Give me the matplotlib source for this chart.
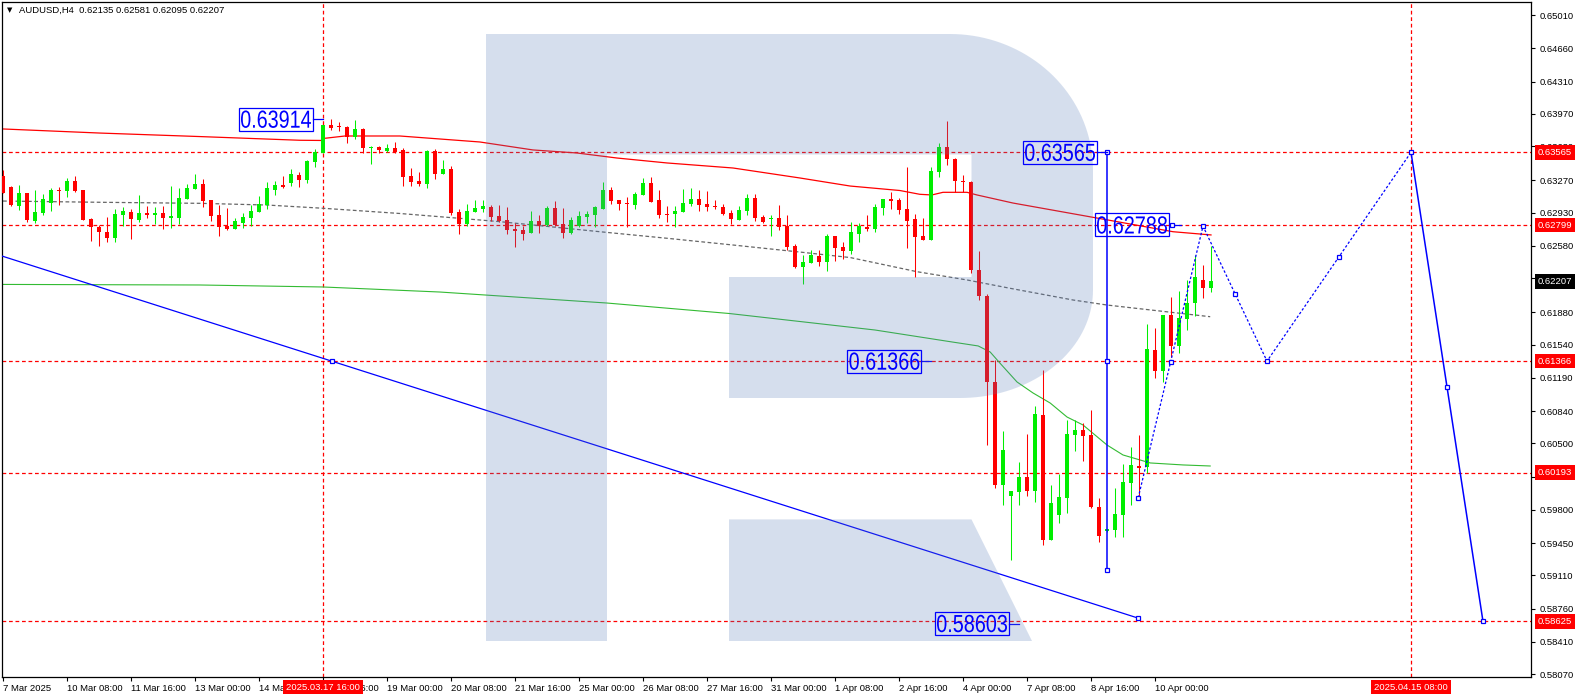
import matplotlib
matplotlib.use('Agg')
import matplotlib.pyplot as plt
from matplotlib.font_manager import FontProperties
from matplotlib.patches import Polygon, PathPatch, Rectangle
from matplotlib.textpath import TextPath
from matplotlib.transforms import Affine2D, IdentityTransform, blended_transform_factory
import numpy as np

# ---- H4 candles, bar 0 = 7 Mar 2025 00:00 ----
opens = [
    0.63316, 0.63200, 0.63003, 0.63137, 0.62845, 0.62930, 0.63028, 0.63168, 0.63161, 0.63263,
    0.63168, 0.62863, 0.62779, 0.62726, 0.62666, 0.62905, 0.62937, 0.62852, 0.62926, 0.62908,
    0.62926, 0.62874, 0.62874, 0.63074, 0.63179, 0.63231, 0.63063, 0.62905, 0.62789, 0.62758,
    0.62821, 0.62874, 0.62937, 0.63010, 0.63168, 0.63221, 0.63242, 0.63326, 0.63274, 0.63467,
    0.63561, 0.63853, 0.63835, 0.63835, 0.63730, 0.63814, 0.63608, 0.63625, 0.63582, 0.63614,
    0.63589, 0.63316, 0.63263, 0.63235, 0.63579, 0.63340, 0.63390, 0.62937, 0.62808, 0.62937,
    0.62968, 0.62989, 0.62895, 0.62852, 0.62758, 0.62747, 0.62716, 0.62842, 0.62800, 0.62979,
    0.62810, 0.62716, 0.62790, 0.62884, 0.62905, 0.62968, 0.63168, 0.63063, 0.63031, 0.63010,
    0.63116, 0.63242, 0.63063, 0.62916, 0.62916, 0.62937, 0.63021, 0.63074, 0.63021, 0.63000,
    0.62989, 0.62926, 0.62852, 0.62947, 0.63084, 0.62884, 0.62860, 0.62874, 0.62789, 0.62579,
    0.62358, 0.62400, 0.62473, 0.62410, 0.62684, 0.62568, 0.62526, 0.62705, 0.62779, 0.62758,
    0.62979, 0.63074, 0.63063, 0.62968, 0.62863, 0.62684, 0.62642, 0.63361, 0.63625, 0.63498,
    0.63266, 0.63253, 0.62326, 0.62052, 0.61147, 0.60062, 0.59951, 0.59991, 0.60146, 0.59999,
    0.60799, 0.59483, 0.59746, 0.59925, 0.60588, 0.60641, 0.60588, 0.59830, 0.59575, 0.59588,
    0.59746, 0.60083, 0.60262, 0.60255, 0.61483, 0.61262, 0.61852, 0.61529, 0.61810, 0.61975,
    0.62221, 0.62135]
highs = [
    0.63379, 0.63211, 0.63221, 0.63140, 0.63168, 0.63126, 0.63193, 0.63200, 0.63295, 0.63316,
    0.63170, 0.62870, 0.62800, 0.62887, 0.62968, 0.62993, 0.62968, 0.63116, 0.63000, 0.62989,
    0.63000, 0.63210, 0.63189, 0.63231, 0.63337, 0.63284, 0.63065, 0.63010, 0.62976, 0.62876,
    0.62926, 0.63010, 0.63105, 0.63253, 0.63263, 0.63316, 0.63390, 0.63358, 0.63484, 0.63600,
    0.63855, 0.63914, 0.63884, 0.63837, 0.63910, 0.63816, 0.63635, 0.63635, 0.63653, 0.63677,
    0.63611, 0.63403, 0.63361, 0.63589, 0.63600, 0.63488, 0.63421, 0.62965, 0.63021, 0.63063,
    0.63063, 0.63010, 0.63010, 0.62989, 0.62821, 0.62790, 0.62947, 0.62905, 0.63000, 0.63052,
    0.62979, 0.62884, 0.62947, 0.62947, 0.63000, 0.63253, 0.63200, 0.63065, 0.63095, 0.63147,
    0.63295, 0.63305, 0.63168, 0.63000, 0.63000, 0.63179, 0.63189, 0.63168, 0.63158, 0.63063,
    0.63021, 0.62958, 0.63000, 0.63126, 0.63126, 0.62905, 0.62905, 0.63010, 0.62905, 0.62600,
    0.62484, 0.62536, 0.62536, 0.62705, 0.62686, 0.62621, 0.62832, 0.62821, 0.62905, 0.63021,
    0.63074, 0.63147, 0.63084, 0.63411, 0.62916, 0.62874, 0.63411, 0.63667, 0.63898, 0.63500,
    0.63326, 0.63263, 0.62529, 0.62073, 0.61378, 0.60631, 0.60000, 0.60304, 0.60599, 0.60894,
    0.61273, 0.60062, 0.60178, 0.60747, 0.60747, 0.60715, 0.60852, 0.59925, 0.59600, 0.60030,
    0.60283, 0.60462, 0.60588, 0.61757, 0.61715, 0.61852, 0.62045, 0.62105, 0.62221, 0.62484,
    0.62379, 0.62581]
lows = [
    0.63137, 0.63003, 0.62958, 0.62834, 0.62818, 0.62905, 0.62947, 0.63010, 0.63098, 0.63144,
    0.62852, 0.62634, 0.62579, 0.62624, 0.62624, 0.62790, 0.62652, 0.62834, 0.62874, 0.62811,
    0.62758, 0.62771, 0.62811, 0.63070, 0.63175, 0.62993, 0.62842, 0.62684, 0.62747, 0.62755,
    0.62771, 0.62790, 0.62935, 0.62968, 0.63116, 0.63193, 0.63210, 0.63203, 0.63242, 0.63411,
    0.63558, 0.63800, 0.63793, 0.63667, 0.63705, 0.63555, 0.63439, 0.63555, 0.63572, 0.63555,
    0.63214, 0.63214, 0.63214, 0.63193, 0.63287, 0.63338, 0.62903, 0.62705, 0.62790, 0.62935,
    0.62937, 0.62842, 0.62832, 0.62705, 0.62568, 0.62642, 0.62714, 0.62716, 0.62790, 0.62790,
    0.62663, 0.62705, 0.62779, 0.62821, 0.62779, 0.62966, 0.63021, 0.62958, 0.62779, 0.62968,
    0.63114, 0.63040, 0.62874, 0.62832, 0.62779, 0.62935, 0.63000, 0.62947, 0.62947, 0.62968,
    0.62905, 0.62811, 0.62850, 0.62905, 0.62842, 0.62821, 0.62684, 0.62747, 0.62536, 0.62347,
    0.62179, 0.62398, 0.62368, 0.62316, 0.62421, 0.62442, 0.62495, 0.62621, 0.62737, 0.62726,
    0.62905, 0.62968, 0.62916, 0.62558, 0.62252, 0.62642, 0.62640, 0.63308, 0.63432, 0.63151,
    0.63151, 0.62291, 0.62010, 0.60483, 0.60030, 0.59851, 0.59272, 0.59851, 0.59946, 0.59887,
    0.59430, 0.59480, 0.59662, 0.59767, 0.60420, 0.60315, 0.59820, 0.59462, 0.59570, 0.59514,
    0.59514, 0.59851, 0.59929, 0.60193, 0.61189, 0.61147, 0.61413, 0.61449, 0.61694, 0.61845,
    0.62035, 0.62095]
closes = [
    0.63140, 0.63010, 0.63137, 0.62852, 0.62937, 0.63074, 0.63168, 0.63161, 0.63263, 0.63161,
    0.62855, 0.62776, 0.62729, 0.62666, 0.62916, 0.62947, 0.62866, 0.62926, 0.62908, 0.62926,
    0.62874, 0.62895, 0.63084, 0.63189, 0.63231, 0.63052, 0.62895, 0.62779, 0.62758, 0.62842,
    0.62884, 0.62947, 0.63021, 0.63189, 0.63221, 0.63203, 0.63337, 0.63274, 0.63474, 0.63572,
    0.63853, 0.63825, 0.63829, 0.63730, 0.63814, 0.63608, 0.63625, 0.63590, 0.63608, 0.63572,
    0.63308, 0.63256, 0.63235, 0.63579, 0.63340, 0.63390, 0.62930, 0.62808, 0.62947, 0.62979,
    0.63000, 0.62884, 0.62842, 0.62747, 0.62737, 0.62705, 0.62842, 0.62800, 0.62979, 0.62800,
    0.62716, 0.62852, 0.62895, 0.62916, 0.62989, 0.63168, 0.63052, 0.63021, 0.63018, 0.63126,
    0.63242, 0.63042, 0.62905, 0.62908, 0.62947, 0.63031, 0.63074, 0.63010, 0.62989, 0.62989,
    0.62916, 0.62863, 0.62958, 0.63084, 0.62874, 0.62832, 0.62874, 0.62779, 0.62568, 0.62358,
    0.62410, 0.62484, 0.62410, 0.62684, 0.62558, 0.62526, 0.62726, 0.62789, 0.62758, 0.62989,
    0.63074, 0.63052, 0.62958, 0.62842, 0.62674, 0.62642, 0.63369, 0.63625, 0.63492, 0.63266,
    0.63249, 0.62326, 0.62052, 0.61147, 0.60062, 0.60430, 0.60000, 0.60146, 0.59999, 0.60810,
    0.59483, 0.59873, 0.59936, 0.60599, 0.60641, 0.60578, 0.59830, 0.59525, 0.59599, 0.59757,
    0.60094, 0.60273, 0.60245, 0.61494, 0.61262, 0.61852, 0.61529, 0.61820, 0.61978, 0.62256,
    0.62140, 0.62207]

# moving averages, sampled (bar, price)
ma_red_x = [0, 12.1, 24.6, 37.1, 39.75, 40.25, 42.75, 49.6, 59.6, 66.25, 71.75, 76.75, 83,
            91.25, 99.6, 105.9, 112.1, 114.6, 116.1, 117.5, 120.5, 121.75, 126.25, 136.75, 146.25, 151]
ma_red_y = [0.63811, 0.63768, 0.63731, 0.63692, 0.63690, 0.63713, 0.63737, 0.63737, 0.63674,
            0.63590, 0.63558, 0.63505, 0.63453, 0.63400, 0.63295, 0.63210, 0.63163, 0.63123,
            0.63116, 0.63144, 0.63144, 0.63116, 0.63031, 0.62873, 0.62729, 0.62695]
ma_gray_x = [0, 12.1, 24.6, 33, 40, 49.6, 57.1, 62.1, 66.25, 74.6, 83, 91.25, 99.6, 105.9,
             114.25, 120.5, 125.9, 133.75, 138, 150.9]
ma_gray_y = [0.63052, 0.63039, 0.63028, 0.63010, 0.62976, 0.62921, 0.62870, 0.62835, 0.62800,
             0.62729, 0.62660, 0.62589, 0.62515, 0.62457, 0.62308, 0.62221, 0.62133, 0.62010,
             0.61957, 0.61834]
ma_green_x = [0, 24.6, 40, 54.6, 75.5, 90.75, 109, 118.4, 121.9, 123.4, 124.6, 126.75, 128.75,
              130.9, 133, 135, 138, 140, 143.4, 147.5, 150.9]
ma_green_y = [0.62174, 0.62168, 0.62147, 0.62094, 0.61978, 0.61868, 0.61694, 0.61571, 0.61526,
              0.61462, 0.61347, 0.61147, 0.61031, 0.60925, 0.60778, 0.60694, 0.60483, 0.60378,
              0.60294, 0.60273, 0.60262]

# horizontal levels and vertical time lines
levels = [0.63565, 0.62799, 0.61366, 0.60193, 0.58625]
vlines_x = [40, 176]
vlines_lbl = ['2025.03.17 16:00', '2025.04.15 08:00']
last_price = 0.62207

# blue drawing objects
trend_x = [-59.7, 41.1, 141.9]
trend_y = [0.64072, 0.61366, 0.58660]
vert_x = 138
vert_y = [0.63565, 0.61366, 0.59167]
zz_dash_x = [141.9, 150, 158, 176]
zz_dash_y = [0.59926, 0.62788, 0.61366, 0.63565]
zz_solid_x = [176, 185]
zz_solid_y = [0.63565, 0.58625]
# text labels: (box right edge bar, price, text, tick end bar)
blue_labels = [(38.75, 0.63914, '0.63914', 40), (136.75, 0.63565, '0.63565', 138),
               (145.75, 0.62800, '0.62788', 147.2), (114.8, 0.61366, '0.61366', 116),
               (125.75, 0.58603, '0.58603', 127)]

yticks = [0.65010, 0.64660, 0.64310, 0.63970, 0.63630, 0.63270, 0.62930, 0.62580, 0.62240,
          0.61880, 0.61540, 0.61190, 0.60840, 0.60500, 0.60150, 0.59800, 0.59450, 0.59110,
          0.58760, 0.58410, 0.58070]
xticks = list(range(0, 145, 8))
xtick_labels = ['7 Mar 2025', '10 Mar 08:00', '11 Mar 16:00', '13 Mar 00:00', '14 Mar 08:00',
                '17 Mar 16:00', '19 Mar 00:00', '20 Mar 08:00', '21 Mar 16:00', '25 Mar 00:00',
                '26 Mar 08:00', '27 Mar 16:00', '31 Mar 00:00', '1 Apr 08:00', '2 Apr 16:00',
                '4 Apr 00:00', '7 Apr 08:00', '8 Apr 16:00', '10 Apr 00:00']

GREEN = '#00ee00'
RED = '#ff0000'
BLUE = '#0000ff'

plt.rcParams['font.family'] = ['Liberation Sans', 'DejaVu Sans']

W, H = 1578, 698
L, T, R, B = 2, 2, 1531, 677
fig = plt.figure(figsize=(W / 100, H / 100), dpi=100)
ax = fig.add_axes([L / W, 1 - B / H, (R - L) / W, (B - T) / H])
ax.set_xlim(-0.125, 191)
ax.set_ylim(0.58040, 0.65148)
px = Affine2D().scale(1 / W, -1 / H).translate(0, 1) + fig.transFigure

# levels
for lv in levels:
    ax.axhline(lv, color=RED, lw=0.9, dashes=(3, 2.2), zorder=2)
for vx in vlines_x:
    ax.axvline(vx, color=RED, lw=0.9, dashes=(3, 2.2), zorder=2)

# moving averages
ax.plot(ma_red_x, ma_red_y, color=RED, lw=0.9, zorder=2.5)
ax.plot(ma_gray_x, ma_gray_y, color='#666666', lw=0.9, dashes=(3, 2), zorder=2.5)
ax.plot(ma_green_x, ma_green_y, color='#33bb33', lw=0.8, zorder=2.5)

# candles
o = np.array(opens)
c = np.array(closes)
idx = np.arange(len(o))
col = np.where(c >= o, GREEN, RED)
ax.vlines(idx, lows, highs, colors=col, lw=0.75, zorder=3)
ax.bar(idx, np.maximum(np.abs(c - o), 0.00011), bottom=np.minimum(o, c), width=0.62,
       color=col, lw=0, zorder=3)

# blue objects
mk = dict(marker='s', ms=3.5, mfc='white', mec=BLUE, mew=0.9)
ax.plot([trend_x[0], trend_x[2]], [trend_y[0], trend_y[2]], color=BLUE, lw=0.9, zorder=3.5)
ax.plot(trend_x[1:], trend_y[1:], ls='none', zorder=3.6, **mk)
ax.plot([vert_x] * 3, vert_y, color=BLUE, lw=1.1, zorder=3.5, **mk)
ax.plot(zz_dash_x, zz_dash_y, color=BLUE, lw=0.9, dashes=(2, 1.6), zorder=3.5)
ax.plot(zz_solid_x, zz_solid_y, color=BLUE, lw=1.1, zorder=3.5)
pts_x = zz_dash_x + zz_solid_x[1:]
pts_y = zz_dash_y + zz_solid_y[1:]
mid_x = [(a + b) / 2 for a, b in zip(pts_x[:-1], pts_x[1:])]
mid_y = [(a + b) / 2 for a, b in zip(pts_y[:-1], pts_y[1:])]
ax.plot(pts_x + mid_x, pts_y + mid_y, ls='none', zorder=3.6, **mk)
ax.plot([146.1], [0.62800], ls='none', zorder=3.6, **mk)

# big framed price labels, narrow digits drawn as scaled text paths
fp = FontProperties(family='Liberation Sans')
for xr, yv, txt, xt in blue_labels:
    ax.plot([xr, xt], [yv, yv], color=BLUE, lw=0.9, zorder=3.5)
    xd, yd = ax.transData.transform((xr, yv))
    tp = TextPath((0, 0), txt, size=24, prop=fp)
    ext = tp.get_extents()
    tr = (Affine2D().translate(-ext.x1, -(ext.y0 + ext.y1) / 2)
          .scale(70 / ext.width, 17.5 / ext.height).translate(xd - 2, yd))
    fig.add_artist(PathPatch(tr.transform_path(tp), transform=IdentityTransform(),
                             fc=BLUE, ec='none', zorder=6))
    fig.add_artist(Rectangle((xd - 74, yd - 11.5), 74, 23, transform=IdentityTransform(),
                             fill=False, ec=BLUE, lw=0.9, zorder=6))

# watermark logo, drawn over the chart
logo_rgb = (86 / 255, 123 / 255, 185 / 255)
t1 = np.linspace(np.pi / 2, 0, 40)
t2 = np.linspace(0, -np.pi / 2, 40)
arc1 = list(zip(950 + 143 * np.cos(t1), 170 - 136 * np.sin(t1)))
arc2 = list(zip(960 + 133 * np.cos(t2), 290 - 108 * np.sin(t2)))
body = [(486, 34)] + arc1 + arc2 + [(729, 398), (729, 277), (971.5, 277), (971.5, 154.5),
                                    (607, 154.5), (607, 641), (486, 641)]
leg = [(729, 519.4), (971.5, 519.4), (1032, 641), (729, 641)]
for shape in (body, leg):
    fig.add_artist(Polygon(shape, closed=True, transform=px, fc=logo_rgb, ec='none',
                           alpha=0.243, zorder=5))

# axes styling
for s in ax.spines.values():
    s.set_color('black')
    s.set_linewidth(0.9)
ax.yaxis.tick_right()
ax.set_yticks(yticks)
ax.set_yticklabels([f'{v:.5f}' for v in yticks])
ax.tick_params(axis='y', direction='out', length=3, width=0.8, pad=3, labelsize=6.8)
ax.set_xticks(xticks)
ax.set_xticklabels(xtick_labels, ha='left')
ax.tick_params(axis='x', direction='out', length=3, width=0.8, pad=2, labelsize=6.8)

# right-side price boxes
ty = blended_transform_factory(ax.transAxes, ax.transData)
xbox = (1538 - L) / (R - L)
for lv in levels:
    ax.text(xbox, lv, f'{lv:.5f}', transform=ty, ha='left', va='center', color='white',
            fontsize=6.8, zorder=7, clip_on=False,
            bbox=dict(boxstyle='square,pad=0.3', fc=RED, ec='none'))
ax.text(xbox, last_price, f'{last_price:.5f}', transform=ty, ha='left', va='center',
        color='white', fontsize=6.8, zorder=7, clip_on=False,
        bbox=dict(boxstyle='square,pad=0.3', fc='black', ec='none'))

# bottom date boxes
tx = blended_transform_factory(ax.transData, ax.transAxes)
for vx, lbl in zip(vlines_x, vlines_lbl):
    ax.text(vx, (B - 687) / (B - T), lbl, transform=tx, ha='center', va='center',
            color='white', fontsize=6.8, zorder=7, clip_on=False,
            bbox=dict(boxstyle='square,pad=0.3', fc=RED, ec='none'))

# header
fig.text(7 / W, 1 - 10.5 / H, '\u25bc', family='DejaVu Sans', fontsize=5, va='center')
fig.text(19 / W, 1 - 10.5 / H,
         'AUDUSD,H4  %.5f %.5f %.5f %.5f' % (opens[-1], highs[-1], lows[-1], closes[-1]),
         fontsize=6.8, va='center')

fig.savefig('out.png', dpi=100, facecolor='white')
